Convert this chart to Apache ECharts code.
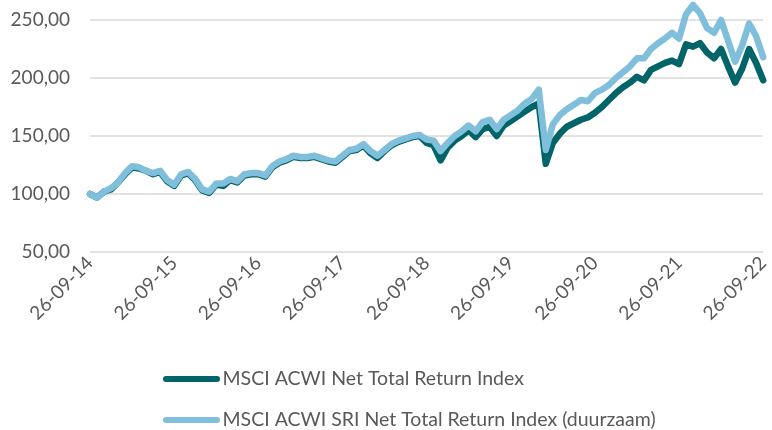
<!DOCTYPE html>
<html>
<head>
<meta charset="utf-8">
<script src="https://cdn.jsdelivr.net/npm/echarts@6/dist/echarts.min.js"></script>
<style>
  html, body { margin: 0; padding: 0; background: #fff; }
  #chart { width: 772px; height: 430px; }
</style>
</head>
<body>
<div id="chart"></div>
<script>
// monthly readings, 26-09-14 .. 26-09-22 (index 100 at start)
var acwi = [
  100, 97, 102, 104, 110, 117, 123, 122, 120, 117, 119, 111, 107,
  116, 118, 112, 103, 101, 108, 107, 112, 110, 116, 117, 117,
  115, 123, 127, 129, 132, 131, 131, 132, 130, 128, 127, 132,
  137, 138, 142, 135, 131, 137, 142, 145, 147, 149, 150, 144,
  142, 129, 140, 146, 150, 155, 149, 156, 158, 150, 159, 163,
  167, 171, 175, 178, 126, 144, 152, 158, 161, 164, 166, 170,
  175, 181, 187, 192, 196, 201, 198, 207, 210, 213, 215, 212,
  229, 227, 230, 222, 217, 225, 210, 196, 208, 225, 213, 198
];
var sri = [
  100, 97, 102, 105, 110, 118, 124, 123, 120, 118, 120, 112, 108,
  117, 119, 113, 104, 102, 109, 109, 113, 111, 117, 118, 118,
  116, 124, 128, 130, 133, 132, 132, 133, 131, 129, 128, 133,
  138, 139, 143, 137, 133, 138, 143, 146, 148, 150, 151, 147,
  146, 137, 144, 150, 154, 159, 154, 162, 164, 156, 164, 168,
  172, 178, 182, 190, 138, 160, 168, 173, 177, 181, 180, 187,
  190, 194, 200, 205, 210, 217, 217, 225, 230, 234, 239, 234,
  255, 263, 256, 243, 239, 250, 232, 214, 228, 247, 236, 218
];
var seriesNames = ['MSCI ACWI Net Total Return Index', 'MSCI ACWI SRI Net Total Return Index (duurzaam)'];
var tickLabels = ['26-09-14', '26-09-15', '26-09-16', '26-09-17', '26-09-18', '26-09-19', '26-09-20', '26-09-21', '26-09-22'];

var months = [];
for (var i = 0; i < acwi.length; i++) {
  var m = (8 + i) % 12 + 1;
  var y = 14 + Math.floor((8 + i) / 12);
  months.push('26-' + (m < 10 ? '0' + m : m) + '-' + y);
}

var myChart = echarts.init(document.getElementById('chart'));
var font = 'Lato, "Open Sans", sans-serif';
var capsule = 'path://M3,0 H54 A3,3 0 0 1 54,6 H3 A3,3 0 0 1 3,0 Z';

function legendRow(name, top) {
  return {
    left: 158,
    top: top,
    itemWidth: 58,
    itemHeight: 6,
    itemGap: 0,
    icon: capsule,
    selectedMode: false,
    textStyle: { fontFamily: font, fontSize: 19.5, color: '#595959', padding: [0, 0, 0, -3] },
    data: [name]
  };
}

var option = {
  animation: false,
  color: ['#006468', '#7fbfdc'],
  grid: { left: 90, right: 4, top: 20, bottom: 178 },
  legend: [legendRow(seriesNames[0], 364), legendRow(seriesNames[1], 405)],
  xAxis: {
    type: 'category',
    boundaryGap: false,
    data: months,
    axisLine: { show: false },
    axisTick: { show: false },
    axisLabel: {
      rotate: 45,
      margin: 8,
      interval: function (idx, val) { return tickLabels.indexOf(val) >= 0; },
      fontFamily: font,
      fontSize: 19,
      color: '#595959'
    }
  },
  yAxis: {
    type: 'value',
    min: 50,
    max: 250,
    interval: 50,
    axisLine: { show: false },
    axisTick: { show: false },
    axisLabel: {
      margin: 20,
      fontFamily: font,
      fontSize: 19,
      color: '#595959',
      formatter: function (v) { return v.toFixed(2).replace('.', ','); }
    },
    splitLine: { lineStyle: { color: '#d9d9d9', width: 1.5 } }
  },
  series: [
    {
      name: seriesNames[0],
      type: 'line',
      data: acwi,
      showSymbol: false,
      clip: false,
      lineStyle: { width: 6.5, cap: 'round', join: 'round' }
    },
    {
      name: seriesNames[1],
      type: 'line',
      data: sri,
      showSymbol: false,
      clip: false,
      lineStyle: { width: 6.5, cap: 'round', join: 'round' }
    }
  ]
};
myChart.setOption(option);
</script>
</body>
</html>
